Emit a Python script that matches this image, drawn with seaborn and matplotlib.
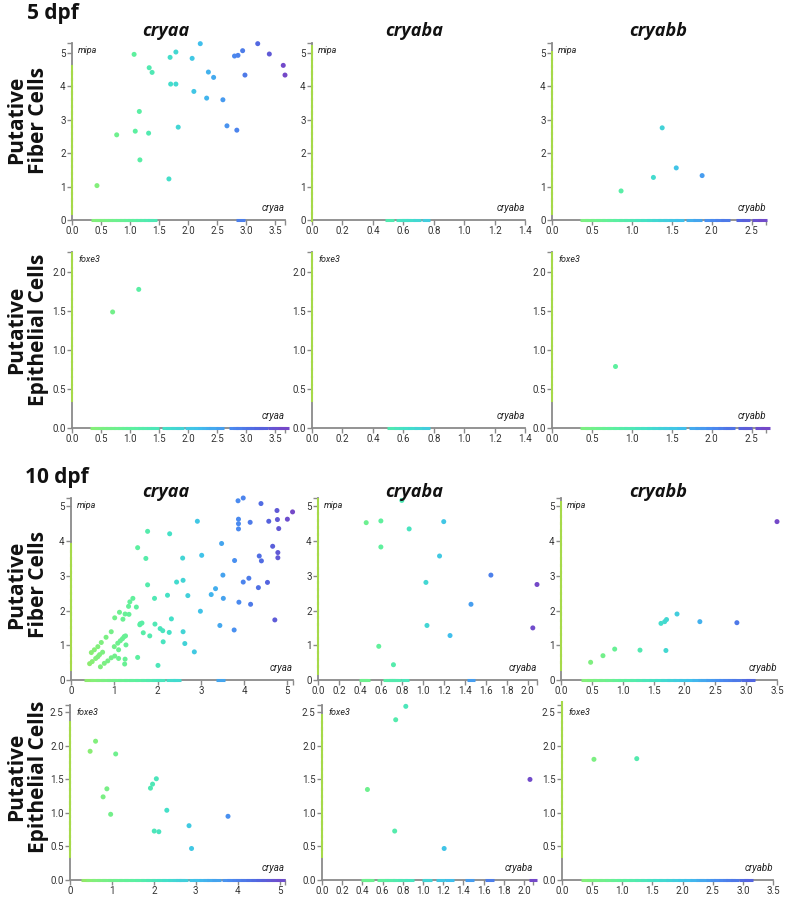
import numpy as np
import pandas as pd
import seaborn as sns
import matplotlib.pyplot as plt
from matplotlib.colors import LinearSegmentedColormap

# ---- 5 dpf, fiber cells (mipa) ----
fib5_cryaa_x = [0.43, 0.77, 1.07, 1.09, 1.16, 1.17, 1.32, 1.33, 1.38, 1.67, 1.69, 1.70, 1.79, 1.79,
                1.83, 2.07, 2.10, 2.21, 2.32, 2.35, 2.44, 2.60, 2.67, 2.80, 2.84, 2.86, 2.94, 2.98,
                3.20, 3.40, 3.64, 3.67]
fib5_cryaa_y = [1.03, 2.55, 4.96, 2.66, 3.25, 1.80, 2.60, 4.56, 4.42, 1.23, 4.87, 4.07, 5.03, 4.07,
                2.78, 4.84, 3.85, 5.28, 3.65, 4.43, 4.27, 3.60, 2.82, 4.91, 2.69, 4.93, 5.07, 4.34,
                5.28, 4.97, 4.63, 4.34]
fib5_cryaa_zero = [0.41, 0.48, 0.55, 0.62, 0.69, 0.76, 0.83, 0.90, 0.97, 1.04, 1.11, 1.18, 1.25,
                   1.32, 1.39, 2.91]
fib5_cryaa_axis = [0.3, 0.5, 0.7, 0.9, 1.1, 1.3, 1.5, 1.7, 1.9, 2.1, 2.3, 2.5, 2.7, 2.9, 3.1, 3.3,
                   3.5, 3.7, 3.9, 4.1, 4.3, 4.5]

fib5_cryaba_x = []
fib5_cryaba_y = []
fib5_cryaba_zero = [0.51, 0.58, 0.60, 0.62, 0.645, 0.69, 0.75]
fib5_cryaba_axis = [0.1, 0.3, 0.5, 0.7, 0.9, 1.1, 1.3, 1.5, 1.7, 1.9, 2.1, 2.3, 2.5, 2.7, 2.9, 3.1,
                    3.3, 3.5, 3.7, 3.9, 4.1, 4.3, 4.5, 4.7, 4.9, 5.1]

fib5_cryabb_x = [0.865, 1.27, 1.38, 1.556, 1.88]
fib5_cryabb_y = [0.87, 1.275, 2.76, 1.56, 1.33]
fib5_cryabb_zero = [0.40, 0.47, 0.54, 0.61, 0.68, 0.75, 0.82, 0.89, 0.96, 1.03, 1.10, 1.17, 1.24,
                    1.31, 1.38, 1.45, 1.52, 1.60, 1.73, 1.82, 1.96, 2.03, 2.10, 2.17, 2.36, 2.43,
                    2.56, 2.64]
fib5_cryabb_axis = [0.3, 0.5, 0.7, 0.9, 1.1, 1.3, 1.5, 1.7, 1.9, 2.1, 2.3, 2.5, 2.7, 2.9, 3.1, 3.3,
                    3.5, 3.7, 3.9, 4.1, 4.3, 4.5, 4.7, 4.9]

# ---- 5 dpf, epithelial cells (foxe3) ----
epi5_cryaa_x = [0.70, 1.15]
epi5_cryaa_y = [1.49, 1.78]
epi5_cryaa_zero = [0.38, 0.45, 0.52, 0.59, 0.66, 0.73, 0.80, 0.87, 0.94, 1.01, 1.08, 1.15, 1.22,
                   1.29, 1.36, 1.43, 1.62, 1.70, 1.78, 1.86, 2.03, 2.10, 2.17, 2.24, 2.31, 2.38,
                   2.44, 2.55, 2.78, 2.85, 2.90, 3.01, 3.08, 3.15, 3.22, 3.30, 3.45, 3.52, 3.62, 3.66]
epi5_cryaa_axis = [0.4, 0.5, 0.6, 0.7, 0.8, 0.9, 1.0, 1.1, 1.2, 1.3, 1.4, 1.5, 1.6, 1.7, 1.8, 1.9,
                   2.0, 2.1, 2.2]

epi5_cryaba_x = []
epi5_cryaba_y = []
epi5_cryaba_zero = [0.52, 0.57, 0.60, 0.63, 0.66, 0.70, 0.75]
epi5_cryaba_axis = [0.4, 0.5, 0.6, 0.7, 0.8, 0.9, 1.0, 1.1, 1.2, 1.3, 1.4, 1.5, 1.6, 1.7, 1.8, 1.9,
                    2.0, 2.1, 2.2]

epi5_cryabb_x = [0.79]
epi5_cryabb_y = [0.79]
epi5_cryabb_zero = [0.40, 0.47, 0.54, 0.61, 0.68, 0.75, 0.82, 0.89, 0.96, 1.03, 1.10, 1.17, 1.24,
                    1.31, 1.38, 1.45, 1.52, 1.62, 1.77, 1.85, 1.91, 1.98, 2.06, 2.13, 2.20, 2.24,
                    2.39, 2.45, 2.60, 2.67]
epi5_cryabb_axis = [0.4, 0.5, 0.6, 0.7, 0.8, 0.9, 1.0, 1.1, 1.2, 1.3, 1.4, 1.5, 1.6, 1.7, 1.8, 1.9,
                    2.0, 2.1, 2.2]

# ---- 10 dpf, fiber cells (mipa) ----
fib10_cryaa_x = [0.47, 0.54, 0.62, 0.70, 0.81, 0.93, 0.43, 0.49, 0.57, 0.62, 0.66, 0.73, 0.68, 0.77,
                 0.85, 0.93, 1.01, 1.00, 1.10, 1.10, 1.24, 1.25, 1.27, 1.08, 1.14, 1.19, 1.23, 1.26,
                 1.01, 1.12, 1.20, 1.25, 1.34, 1.33, 1.36, 1.43, 1.51, 1.54, 1.54, 1.59, 1.60, 1.64,
                 1.67, 1.73, 1.77, 1.77, 1.82, 1.93, 1.94, 2.01, 2.06, 2.12, 2.13, 2.23, 2.27, 2.28,
                 2.32, 2.44, 2.58, 2.59, 2.59, 2.63, 2.70, 2.85, 2.92, 2.99, 3.02, 3.24, 3.34, 3.44,
                 3.48, 3.51, 3.52, 3.77, 3.78, 3.86, 3.87, 3.87, 3.87, 3.88, 3.98, 3.98, 4.11, 4.14,
                 4.15, 4.33, 4.35, 4.39, 4.40, 4.54, 4.57, 4.66, 4.71, 4.76, 4.77, 4.78, 4.78, 4.80,
                 5.00, 5.12]
fib10_cryaa_y = [0.79, 0.87, 0.96, 1.08, 1.23, 1.39, 0.47, 0.53, 0.62, 0.67, 0.73, 0.80, 0.38, 0.48,
                 0.55, 0.64, 0.69, 0.96, 0.87, 0.62, 0.46, 0.60, 1.01, 1.06, 1.13, 1.19, 1.25, 1.27,
                 1.79, 1.95, 1.75, 1.90, 1.89, 2.12, 2.25, 2.35, 2.10, 3.81, 0.65, 1.59, 1.62, 1.64,
                 1.36, 3.50, 4.28, 2.74, 1.27, 2.35, 1.61, 0.42, 1.48, 1.42, 1.10, 2.44, 1.37, 4.21,
                 1.76, 2.82, 3.51, 2.87, 1.39, 1.05, 2.43, 0.81, 4.57, 1.98, 3.59, 2.46, 2.63, 1.57,
                 3.93, 3.02, 2.35, 1.44, 3.44, 5.16, 4.63, 4.50, 4.35, 2.24, 5.24, 2.82, 2.93, 4.54,
                 2.18, 2.66, 3.57, 5.08, 3.43, 2.81, 4.57, 3.85, 1.73, 4.88, 4.62, 3.67, 3.52, 4.36,
                 4.63, 4.84]
fib10_cryaa_zero = [0.41, 0.54, 0.67, 0.80, 0.93, 1.06, 1.19, 1.32, 1.45, 1.58, 1.71, 1.84, 1.97,
                    2.07, 2.30, 2.38, 2.45, 3.45]
fib10_cryaa_axis = [0.4, 0.6, 0.8, 1.0, 1.2, 1.4, 1.6, 1.8, 2.0, 2.2, 2.4, 2.6, 2.8, 3.0, 3.2, 3.4,
                    3.6, 3.8]

fib10_cryaba_x = [0.46, 0.60, 0.60, 0.58, 0.72, 0.80, 0.87, 1.03, 1.04, 1.16, 1.20, 1.26, 1.46, 1.65,
                  2.05, 2.09]
fib10_cryaba_y = [4.53, 4.58, 3.83, 0.97, 0.44, 5.17, 4.35, 2.81, 1.57, 3.57, 4.56, 1.28, 2.18, 3.02,
                  1.50, 2.75]
fib10_cryaba_zero = [0.43, 0.45, 0.66, 0.69, 0.72, 0.75, 0.83, 1.46]
fib10_cryaba_axis = [0.3, 0.5, 0.7, 0.9, 1.1, 1.3, 1.5, 1.7, 1.9, 2.1, 2.3, 2.5, 2.7, 2.9, 3.1, 3.3,
                     3.5, 3.7, 3.9, 4.1, 4.3, 4.5, 4.7, 4.9, 5.1]

fib10_cryabb_x = [0.48, 0.68, 0.87, 1.28, 1.62, 1.68, 1.71, 1.70, 1.88, 2.25, 2.85, 3.50]
fib10_cryabb_y = [0.51, 0.70, 0.89, 0.86, 1.63, 1.68, 1.74, 0.85, 1.90, 1.68, 1.65, 4.56]
fib10_cryabb_zero = [0.39, 0.49, 0.59, 0.69, 0.79, 0.89, 0.99, 1.09, 1.19, 1.29, 1.39, 1.49, 1.59,
                     1.69, 1.79, 1.89, 1.99, 2.09, 2.19, 2.29, 2.34, 2.42, 2.50, 2.56, 2.63, 2.70,
                     2.77, 2.85, 2.99, 3.07]
fib10_cryabb_axis = [0.4, 0.6, 0.8, 1.0, 1.2, 1.4, 1.6, 1.8, 2.0, 2.2, 2.4, 2.6, 2.8, 3.0, 3.2, 3.4,
                     3.6, 3.8, 4.0, 4.2, 4.4, 4.6, 4.8, 5.0]

# ---- 10 dpf, epithelial cells (foxe3) ----
epi10_cryaa_x = [0.48, 0.61, 0.79, 0.88, 0.97, 1.09, 1.92, 1.97, 2.06, 2.01, 2.12, 2.31, 2.84, 2.90,
                 3.77]
epi10_cryaa_y = [1.92, 2.07, 1.24, 1.36, 0.98, 1.88, 1.37, 1.43, 1.51, 0.73, 0.72, 1.04, 0.81, 0.47,
                 0.95]
epi10_cryaa_zero = [0.36, 0.49, 0.62, 0.75, 0.88, 1.01, 1.14, 1.27, 1.40, 1.53, 1.66, 1.79, 1.92,
                    2.05, 2.18, 2.31, 2.44, 2.55, 2.63, 2.71, 2.95, 3.03, 3.18, 3.28, 3.38, 3.50,
                    3.74, 3.86, 3.98, 4.06, 4.18, 4.30, 4.42, 4.54, 4.66, 4.78, 4.90, 5.02]
epi10_cryaa_axis = [0.4, 0.5, 0.6, 0.7, 0.8, 0.9, 1.0, 1.1, 1.2, 1.3, 1.4, 1.5, 1.6, 1.7, 1.8, 1.9,
                    2.0, 2.1, 2.2, 2.3]

epi10_cryaba_x = [0.45, 0.73, 0.83, 0.72, 1.21, 2.06]
epi10_cryaba_y = [1.35, 2.39, 2.59, 0.73, 0.47, 1.50]
epi10_cryaba_zero = [0.43, 0.45, 0.47, 0.59, 0.61, 0.67, 0.69, 0.75, 0.80, 0.87, 1.03, 1.05, 1.17,
                     1.26, 1.46, 1.66, 2.09]
epi10_cryaba_axis = [0.4, 0.5, 0.6, 0.7, 0.8, 0.9, 1.0, 1.1, 1.2, 1.3, 1.4, 1.5, 1.6, 1.7, 1.8, 1.9,
                     2.0, 2.1, 2.2, 2.3, 2.4]

epi10_cryabb_x = [0.53, 1.24]
epi10_cryabb_y = [1.80, 1.81]
epi10_cryabb_zero = [0.39, 0.49, 0.59, 0.69, 0.79, 0.89, 0.99, 1.09, 1.19, 1.29, 1.39, 1.49, 1.59,
                     1.69, 1.79, 1.89, 1.99, 2.09, 2.19, 2.29, 2.35, 2.46, 2.53, 2.60, 2.67, 2.74,
                     2.79, 2.87, 3.01, 3.10]
epi10_cryabb_axis = [0.4, 0.5, 0.6, 0.7, 0.8, 0.9, 1.0, 1.1, 1.2, 1.3, 1.4, 1.5, 1.6, 1.7, 1.8, 1.9,
                     2.0, 2.1, 2.2, 2.3, 2.4, 2.5, 2.6]

genes = ["cryaa", "cryaba", "cryabb"]
xmax_5dpf = [3.67, 1.4, 2.68]
xmax_10dpf = [5.13, 2.09, 3.5]
xticks_5dpf = [[0, 0.5, 1.0, 1.5, 2.0, 2.5, 3.0, 3.5],
               [0, 0.2, 0.4, 0.6, 0.8, 1.0, 1.2, 1.4],
               [0, 0.5, 1.0, 1.5, 2.0, 2.5]]
xticks_10dpf = [[0, 1, 2, 3, 4, 5],
                [0, 0.2, 0.4, 0.6, 0.8, 1.0, 1.2, 1.4, 1.6, 1.8, 2.0],
                [0, 0.5, 1.0, 1.5, 2.0, 2.5, 3.0, 3.5]]
xfmt_5dpf = ["{:.1f}", "{:.1f}", "{:.1f}"]
xfmt_10dpf = ["{:.0f}", "{:.1f}", "{:.1f}"]
yticks_fiber = [0, 1, 2, 3, 4, 5]
yticks_epi5 = [0, 0.5, 1.0, 1.5, 2.0]
yticks_epi10 = [0, 0.5, 1.0, 1.5, 2.0, 2.5]

cmap = LinearSegmentedColormap.from_list(
    "expr", [(0.0, "#a6d94a"), (0.1, "#86ef78"), (0.3, "#5cf0a0"), (0.45, "#44e0c8"),
             (0.6, "#40c0ec"), (0.75, "#4a8cf0"), (0.88, "#5266e0"), (1.0, "#7448c8")])

sns.set_theme(style="ticks")
plt.rcParams['font.family'] = ['Roboto', 'DejaVu Sans']

W, H = 785, 899
fig = plt.figure(figsize=(W / 100, H / 100), dpi=100)
GRAY = "#8a8a8a"


def add_axes(left, right, top, bottom):
    return fig.add_axes([left / W, 1 - bottom / H, (right - left) / W, (bottom - top) / H])


def draw_panel(ax, x, y, zero_x, axis_y, xmax, ymax, xticks, yticks, xfmt, yfmt, ygene, xgene):
    norm = plt.Normalize(0, xmax)
    ax.scatter(zero_x, [0] * len(zero_x), marker="_", s=40, linewidths=2.2,
               c=cmap(norm(np.array(zero_x))), clip_on=False, zorder=3)
    ax.scatter([0] * len(axis_y), axis_y, marker="|", s=60, linewidths=1.5,
               color=cmap(0.0), clip_on=False, zorder=3)
    if len(x):
        df = pd.DataFrame({"x": x, "y": y})
        sns.scatterplot(data=df, x="x", y="y", hue="x", palette=cmap, hue_norm=(0, xmax),
                        s=13, linewidth=0, legend=False, ax=ax, clip_on=False, zorder=4)
    ax.set_xlim(0, xmax)
    ax.set_ylim(0, ymax)
    ax.set_xticks(xticks)
    ax.set_xticklabels([xfmt.format(v) for v in xticks])
    ax.set_yticks(yticks)
    ax.set_yticklabels([yfmt.format(v) for v in yticks])
    ax.set_xticks([xmax], minor=True)
    ax.set_yticks([ymax], minor=True)
    ax.set_xlabel("")
    ax.set_ylabel("")
    for side in ["top", "right"]:
        ax.spines[side].set_visible(False)
    for side in ["left", "bottom"]:
        ax.spines[side].set_color(GRAY)
        ax.spines[side].set_linewidth(1.3)
    ax.tick_params(which="both", length=3.5, width=1, color=GRAY, labelsize=7,
                   labelcolor="#333333", pad=1)
    ax.patch.set_alpha(0)
    ax.annotate(ygene, xy=(0, 1), xycoords="axes fraction", xytext=(4.5, -2),
                textcoords="offset points", ha="left", va="top", style="italic",
                fontsize=6.5, color="#222222")
    ax.annotate(xgene, xy=(1, 0), xycoords="axes fraction", xytext=(0, 5),
                textcoords="offset points", ha="right", va="bottom", style="italic",
                fontsize=7, color="#222222")


rows = [
    dict(top=43, bottom=220, cols=[(72, 285), (312, 525), (552, 766)], ymax=5.3,
         yticks=yticks_fiber, yfmt="{:.0f}", ygene="mipa", xmax=xmax_5dpf,
         xticks=xticks_5dpf, xfmt=xfmt_5dpf,
         data=[(fib5_cryaa_x, fib5_cryaa_y, fib5_cryaa_zero, fib5_cryaa_axis),
               (fib5_cryaba_x, fib5_cryaba_y, fib5_cryaba_zero, fib5_cryaba_axis),
               (fib5_cryabb_x, fib5_cryabb_y, fib5_cryabb_zero, fib5_cryabb_axis)]),
    dict(top=252, bottom=428, cols=[(72, 285), (312, 525), (552, 766)], ymax=2.26,
         yticks=yticks_epi5, yfmt="{:.1f}", ygene="foxe3", xmax=xmax_5dpf,
         xticks=xticks_5dpf, xfmt=xfmt_5dpf,
         data=[(epi5_cryaa_x, epi5_cryaa_y, epi5_cryaa_zero, epi5_cryaa_axis),
               (epi5_cryaba_x, epi5_cryaba_y, epi5_cryaba_zero, epi5_cryaba_axis),
               (epi5_cryabb_x, epi5_cryabb_y, epi5_cryabb_zero, epi5_cryabb_axis)]),
    dict(top=498, bottom=680, cols=[(71, 293), (318, 537), (561, 777)], ymax=5.24,
         yticks=yticks_fiber, yfmt="{:.0f}", ygene="mipa", xmax=xmax_10dpf,
         xticks=xticks_10dpf, xfmt=xfmt_10dpf,
         data=[(fib10_cryaa_x, fib10_cryaa_y, fib10_cryaa_zero, fib10_cryaa_axis),
               (fib10_cryaba_x, fib10_cryaba_y, fib10_cryaba_zero, fib10_cryaba_axis),
               (fib10_cryabb_x, fib10_cryabb_y, fib10_cryabb_zero, fib10_cryabb_axis)]),
    dict(top=705, bottom=880, cols=[(70, 285), (322, 533), (562, 773)], ymax=2.61,
         yticks=yticks_epi10, yfmt="{:.1f}", ygene="foxe3", xmax=xmax_10dpf,
         xticks=xticks_10dpf, xfmt=xfmt_10dpf,
         data=[(epi10_cryaa_x, epi10_cryaa_y, epi10_cryaa_zero, epi10_cryaa_axis),
               (epi10_cryaba_x, epi10_cryaba_y, epi10_cryaba_zero, epi10_cryaba_axis),
               (epi10_cryabb_x, epi10_cryabb_y, epi10_cryabb_zero, epi10_cryabb_axis)]),
]

for row in rows:
    for j, (left, right) in enumerate(row["cols"]):
        ax = add_axes(left, right, row["top"], row["bottom"])
        x, y, zero_x, axis_y = row["data"][j]
        draw_panel(ax, x, y, zero_x, axis_y, row["xmax"][j], row["ymax"],
                   row["xticks"][j], row["yticks"], row["xfmt"][j], row["yfmt"],
                   row["ygene"], genes[j])

# headers and labels
head = dict(family="Open Sans", fontweight="bold", color="#111111")
fig.text(27 / W, 1 - 14 / H, "5 dpf", ha="left", va="center", fontsize=15, **head)
fig.text(25 / W, 1 - 478 / H, "10 dpf", ha="left", va="center", fontsize=15, **head)

for xc, gene in zip([166, 414, 658], genes):
    fig.text(xc / W, 1 - 31 / H, gene, ha="center", va="center", fontsize=13,
             style="italic", **head)
    fig.text(xc / W, 1 - 492 / H, gene, ha="center", va="center", fontsize=13,
             style="italic", **head)

row_labels = ["Putative\nFiber Cells", "Putative\nEpithelial Cells",
              "Putative\nFiber Cells", "Putative\nEpithelial Cells"]
for yc, lab in zip([120, 330, 585, 777], row_labels):
    fig.text(28 / W, 1 - yc / H, lab, rotation=90, ha="center", va="center", fontsize=15,
             linespacing=1.05, multialignment="center", **head)

fig.savefig("out.png", dpi=100)
